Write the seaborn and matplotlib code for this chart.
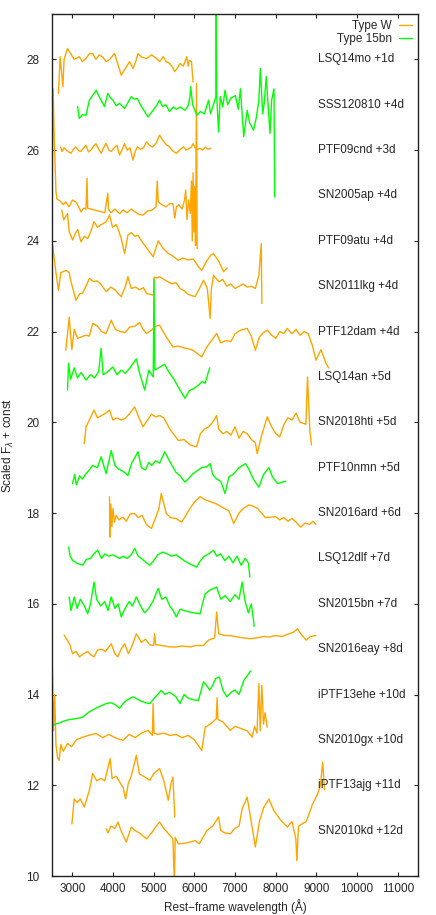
import pandas as pd
import seaborn as sns
import matplotlib.pyplot as plt
from matplotlib.lines import Line2D

# spectra: wavelength (A) and scaled flux + const
lsq14mo_wl = [2661, 2703, 2770, 2800, 2884, 2960, 3050, 3173, 3250, 3339, 3420, 3503, 3580, 3668, 3750, 3833, 3920, 4039, 4120, 4204, 4270, 4328, 4410, 4493, 4560, 4617, 4700, 4825, 4950, 5072, 5150, 5237, 5310, 5393, 5450, 5517, 5580, 5648, 5730, 5814, 5850, 5880, 5930, 5970]
lsq14mo_fl = [27.25, 28.06, 27.4, 28.0, 28.24, 28.13, 28.0, 28.06, 27.95, 28.02, 28.12, 28.13, 28.0, 28.1, 28.05, 27.95, 28.0, 28.13, 27.9, 27.65, 27.75, 27.83, 27.95, 27.8, 27.95, 28.13, 28.05, 28.02, 28.1, 28.02, 27.95, 28.06, 27.95, 27.91, 27.85, 27.73, 27.8, 27.91, 27.85, 28.06, 27.85, 27.98, 27.95, 27.5]

sss120810_wl = [3132, 3173, 3250, 3339, 3421, 3500, 3586, 3650, 3710, 3792, 3875, 3940, 4000, 4080, 4163, 4287, 4370, 4452, 4530, 4600, 4699, 4780, 4864, 4988, 5070, 5146, 5220, 5300, 5393, 5480, 5560, 5650, 5772, 5850, 5893, 5910, 5960, 6061, 6150, 6250, 6349, 6400, 6450, 6530, 6539, 6550, 6596, 6637, 6700, 6755, 6820, 6900, 7010, 7080, 7133, 7175, 7215, 7300, 7360, 7455, 7520, 7587, 7622, 7680, 7720, 7767, 7820, 7860, 7900, 7958, 7975]
sss120810_fl = [26.96, 26.7, 26.78, 26.77, 27.1, 27.2, 27.32, 27.2, 27.1, 26.96, 27.25, 27.15, 27.1, 26.98, 27.03, 26.92, 27.05, 27.18, 27.12, 27.14, 26.96, 26.85, 26.73, 26.88, 26.98, 27.1, 26.96, 27.0, 26.85, 26.95, 26.9, 26.95, 26.88, 26.98, 27.18, 27.4, 27.0, 26.77, 26.85, 26.8, 27.1, 26.8, 26.95, 27.18, 29.5, 27.2, 26.4, 27.18, 26.95, 27.32, 27.0, 27.15, 27.2, 26.9, 27.35, 26.8, 26.3, 26.88, 26.6, 26.44, 26.7, 27.1, 27.8, 26.8, 27.05, 27.62, 26.9, 26.37, 27.1, 27.35, 24.97]

ptf09cnd_wl = [2713, 2750, 2800, 2880, 2967, 3030, 3090, 3150, 3215, 3280, 3339, 3400, 3460, 3520, 3586, 3650, 3710, 3770, 3830, 3900, 3958, 4040, 4100, 4163, 4220, 4287, 4350, 4420, 4493, 4540, 4600, 4680, 4750, 4825, 4900, 4980, 5060, 5146, 5236, 5310, 5393, 5470, 5558, 5640, 5730, 5800, 5860, 5920, 5970, 6050, 6136, 6200, 6270, 6340, 6408]
ptf09cnd_fl = [26.07, 25.97, 26.05, 25.98, 25.93, 26.02, 26.07, 25.99, 25.97, 26.05, 26.1, 25.96, 26.0, 26.08, 26.14, 26.02, 25.93, 26.05, 26.15, 26.0, 25.97, 26.06, 26.1, 25.89, 26.0, 26.14, 26.0, 26.05, 25.78, 25.95, 26.07, 26.02, 26.05, 26.18, 26.1, 26.07, 26.15, 26.33, 26.2, 26.12, 26.07, 25.98, 25.93, 26.0, 26.07, 26.0, 26.03, 26.06, 26.14, 26.0, 26.04, 26.0, 26.06, 26.02, 26.04]

sn2005ap_wl = [2510, 2530, 2560, 2600, 2625, 2700, 2780, 2842, 2920, 3008, 3100, 3215, 3280, 3339, 3363, 3380, 3800, 3875, 3890, 3950, 4050, 4163, 4250, 4350, 4450, 4576, 4650, 4740, 4850, 4950, 5060, 5089, 5113, 5200, 5300, 5400, 5475, 5520, 5560, 5620, 5700, 5760, 5789, 5820, 5860, 5900, 5930, 5950, 5970, 5990, 6010, 6030, 6054, 6070]
sn2005ap_fl = [25.45, 27.35, 26.2, 25.1, 24.92, 24.88, 24.8, 24.86, 24.75, 24.9, 24.85, 24.64, 24.72, 24.7, 25.38, 24.72, 24.62, 25.05, 24.7, 24.62, 24.7, 24.6, 24.68, 24.62, 24.7, 24.62, 24.58, 24.57, 24.66, 24.67, 24.75, 25.32, 24.86, 24.8, 24.75, 24.82, 24.82, 24.5, 24.75, 24.8, 24.7, 24.9, 25.12, 24.47, 24.9, 24.6, 25.32, 24.0, 25.5, 24.2, 25.2, 23.9, 27.47, 23.83]

ptf09atu_wl = [2743, 2790, 2884, 2926, 3008, 3070, 3132, 3215, 3300, 3380, 3454, 3536, 3620, 3700, 3833, 3916, 3990, 4081, 4150, 4204, 4287, 4369, 4450, 4540, 4620, 4700, 4864, 4988, 5113, 5220, 5360, 5450, 5608, 5720, 5850, 5980, 6101, 6183, 6300, 6400, 6471, 6600, 6720, 6780, 6810]
ptf09atu_fl = [24.68, 24.46, 24.6, 24.2, 24.02, 24.15, 24.25, 23.98, 24.1, 24.05, 24.2, 24.42, 24.3, 24.35, 24.42, 24.57, 24.3, 24.36, 24.2, 24.05, 23.72, 24.13, 24.18, 24.1, 24.12, 24.0, 23.8, 23.65, 24.0, 23.85, 23.72, 23.68, 23.57, 23.62, 23.58, 23.6, 23.43, 23.35, 23.55, 23.68, 23.72, 23.55, 23.32, 23.38, 23.4]

sn2011lkg_wl = [2512, 2600, 2661, 2720, 2850, 2926, 2960, 3030, 3090, 3180, 3260, 3421, 3520, 3600, 3700, 3833, 3950, 4050, 4204, 4300, 4369, 4450, 4560, 4658, 4750, 4825, 4920, 5000, 5010, 5080, 5146, 5250, 5350, 5450, 5550, 5650, 5750, 5850, 6019, 6100, 6225, 6320, 6389, 6420, 6471, 6600, 6700, 6800, 6900, 7000, 7100, 7200, 7300, 7400, 7500, 7587, 7645, 7660]
sn2011lkg_fl = [23.94, 23.3, 22.91, 23.3, 23.35, 23.3, 23.13, 22.9, 22.69, 22.83, 22.85, 23.17, 23.1, 23.12, 23.05, 22.88, 22.98, 22.92, 22.77, 22.98, 23.21, 22.95, 22.98, 22.92, 22.97, 22.84, 22.82, 22.8, 23.2, 23.18, 23.21, 23.15, 23.1, 23.05, 23.08, 22.95, 22.9, 22.82, 22.77, 22.9, 23.13, 22.95, 22.29, 22.95, 23.24, 23.1, 23.15, 23.0, 23.05, 22.95, 23.0, 23.05, 22.98, 23.0, 22.95, 23.24, 23.94, 22.62]

ptf12dam_wl = [2842, 2926, 2990, 3050, 3130, 3215, 3330, 3420, 3503, 3620, 3720, 3833, 3958, 4060, 4180, 4300, 4411, 4540, 4658, 4740, 4825, 4930, 5050, 5146, 5311, 5475, 5600, 5750, 5850, 5970, 6183, 6300, 6420, 6549, 6650, 6780, 6900, 7000, 7133, 7298, 7400, 7500, 7600, 7700, 7800, 7900, 8000, 8100, 8200, 8287, 8400, 8500, 8600, 8700, 8800, 8900, 8990, 9113, 9237, 9300]
ptf12dam_fl = [21.59, 22.32, 21.6, 22.05, 21.85, 21.88, 21.92, 21.9, 22.18, 22.12, 22.0, 21.96, 22.25, 22.05, 22.0, 21.98, 22.1, 22.12, 22.2, 22.05, 21.96, 22.02, 22.12, 22.14, 21.88, 21.66, 21.68, 21.64, 21.62, 21.59, 21.44, 21.65, 21.8, 21.96, 21.75, 21.8, 21.78, 21.95, 22.03, 22.07, 21.9, 21.59, 21.88, 21.98, 22.03, 21.92, 21.85, 22.0, 21.96, 22.07, 21.95, 22.05, 21.92, 22.0, 21.95, 21.7, 21.37, 21.6, 21.3, 21.2]

lsq14an_wl = [2884, 2910, 2960, 3050, 3130, 3220, 3339, 3450, 3550, 3650, 3710, 3760, 3850, 3998, 4100, 4200, 4300, 4420, 4576, 4650, 4782, 4880, 4990, 5010, 5030, 5120, 5270, 5380, 5500, 5648, 5772, 5880, 6000, 6100, 6200, 6267, 6349, 6380]
lsq14an_fl = [20.71, 21.3, 20.95, 21.2, 20.98, 21.1, 20.93, 21.05, 20.98, 21.12, 21.63, 21.05, 21.1, 21.22, 21.05, 21.15, 21.08, 21.2, 21.4, 21.1, 20.71, 21.15, 21.0, 23.15, 21.15, 21.2, 21.28, 21.1, 20.95, 20.71, 20.53, 20.7, 20.75, 20.82, 20.9, 20.86, 21.12, 21.2]

sn2018hti_wl = [3297, 3340, 3420, 3536, 3620, 3720, 3820, 3916, 4000, 4100, 4200, 4287, 4400, 4535, 4640, 4740, 4850, 4950, 5050, 5150, 5250, 5400, 5608, 5750, 5900, 6054, 6150, 6250, 6349, 6450, 6549, 6600, 6700, 6800, 6900, 7000, 7100, 7200, 7300, 7400, 7500, 7546, 7650, 7793, 7900, 8000, 8100, 8200, 8300, 8400, 8502, 8600, 8742, 8782, 8840, 8880]
sn2018hti_fl = [19.53, 19.9, 20.05, 20.27, 20.1, 20.15, 20.2, 20.27, 20.05, 20.1, 20.05, 20.08, 20.18, 20.34, 20.1, 19.9, 20.05, 20.18, 20.12, 20.15, 20.1, 19.85, 19.6, 19.62, 19.5, 19.46, 19.75, 19.85, 19.9, 20.0, 20.15, 19.85, 19.75, 19.8, 19.72, 19.9, 19.65, 19.8, 19.75, 19.62, 19.55, 19.31, 19.7, 20.12, 19.9, 19.75, 19.68, 19.95, 20.1, 20.05, 20.2, 20.0, 19.96, 21.0, 19.8, 19.5]

ptf10nmn_wl = [3008, 3060, 3100, 3180, 3250, 3339, 3420, 3500, 3620, 3710, 3833, 3958, 4050, 4120, 4250, 4369, 4460, 4617, 4700, 4800, 4880, 4950, 5050, 5150, 5270, 5360, 5450, 5550, 5650, 5772, 5880, 5960, 6050, 6180, 6308, 6390, 6450, 6550, 6650, 6755, 6850, 6950, 7100, 7257, 7350, 7450, 7587, 7700, 7834, 7920, 8040, 8150, 8247]
ptf10nmn_fl = [18.65, 18.85, 18.62, 18.82, 18.75, 18.87, 18.95, 19.05, 19.0, 19.24, 18.87, 19.38, 19.05, 18.98, 18.92, 18.83, 19.1, 19.35, 19.0, 18.95, 19.12, 19.05, 19.15, 19.1, 19.35, 19.2, 19.05, 18.9, 18.82, 18.68, 18.78, 18.86, 18.92, 19.0, 19.02, 19.09, 18.85, 18.75, 18.7, 18.43, 18.8, 18.85, 19.0, 19.09, 18.95, 18.75, 18.57, 18.85, 19.0, 18.8, 18.65, 18.68, 18.7]

sn2016ard_wl = [3916, 3930, 3950, 3975, 4000, 4040, 4080, 4150, 4245, 4330, 4420, 4535, 4620, 4720, 4820, 4947, 5050, 5130, 5187, 5311, 5420, 5550, 5689, 5894, 6010, 6143, 6250, 6400, 6550, 6700, 6850, 6968, 7100, 7200, 7340, 7450, 7560, 7650, 7750, 7876, 8000, 8100, 8200, 8300, 8400, 8500, 8618, 8720, 8830, 8920, 8990]
sn2016ard_fl = [18.36, 17.47, 18.2, 17.7, 18.1, 17.8, 17.95, 17.85, 17.91, 17.82, 17.98, 17.99, 17.9, 17.95, 17.75, 17.66, 17.9, 18.1, 18.43, 17.99, 17.9, 17.88, 17.8, 18.1, 18.25, 18.36, 18.3, 18.25, 18.2, 18.12, 18.05, 17.77, 18.0, 18.1, 18.18, 18.15, 18.1, 18.0, 17.9, 17.91, 17.92, 17.85, 17.9, 17.82, 17.88, 17.8, 17.69, 17.78, 17.75, 17.82, 17.75]

lsq12dlf_wl = [2909, 2950, 3008, 3100, 3255, 3350, 3450, 3550, 3627, 3720, 3800, 3900, 4000, 4163, 4250, 4350, 4450, 4535, 4620, 4700, 4800, 4906, 5000, 5100, 5229, 5330, 5450, 5550, 5650, 5750, 5850, 6054, 6150, 6250, 6350, 6471, 6550, 6650, 6750, 6850, 6950, 7050, 7150, 7250, 7330, 7365]
lsq12dlf_fl = [17.25, 17.05, 16.96, 16.9, 16.85, 16.98, 17.0, 17.12, 17.18, 17.0, 17.1, 17.05, 17.08, 17.0, 17.05, 17.0, 17.08, 17.22, 17.05, 17.0, 16.92, 16.85, 16.95, 17.08, 17.14, 17.1, 17.05, 17.08, 17.02, 16.95, 16.9, 16.81, 16.95, 17.05, 17.1, 17.18, 17.05, 17.1, 16.95, 17.05, 16.9, 17.05, 16.85, 17.0, 16.9, 16.59]

sn2015bn_wl = [2926, 2970, 3050, 3120, 3200, 3300, 3379, 3450, 3536, 3600, 3700, 3800, 3880, 3958, 4050, 4130, 4204, 4300, 4400, 4480, 4576, 4680, 4780, 4880, 4980, 5113, 5200, 5300, 5400, 5480, 5558, 5650, 5760, 5880, 6000, 6143, 6200, 6267, 6380, 6549, 6650, 6760, 6880, 7000, 7100, 7174, 7250, 7330, 7400, 7455, 7470]
sn2015bn_fl = [16.15, 15.85, 16.15, 15.9, 16.1, 15.95, 15.78, 16.0, 16.48, 16.1, 15.95, 16.05, 15.85, 16.15, 15.9, 16.0, 15.71, 15.9, 16.05, 15.95, 16.15, 15.95, 15.8, 15.9, 16.05, 16.34, 16.1, 16.15, 15.95, 15.85, 15.71, 15.88, 15.85, 15.82, 15.8, 15.78, 16.0, 16.22, 16.3, 16.37, 16.1, 16.18, 16.05, 16.2, 16.1, 16.48, 16.05, 15.8, 16.0, 15.64, 15.5]

sn2016eay_wl = [2802, 2840, 2880, 2940, 3008, 3100, 3173, 3280, 3380, 3450, 3536, 3620, 3720, 3820, 3958, 4050, 4120, 4200, 4287, 4380, 4460, 4576, 4700, 4800, 4900, 5000, 5024, 5050, 5200, 5393, 5550, 5700, 5900, 6050, 6225, 6350, 6500, 6549, 6600, 6750, 6900, 7050, 7200, 7381, 7550, 7700, 7850, 8000, 8150, 8300, 8450, 8535, 8650, 8750, 8850, 8990]
sn2016eay_fl = [15.31, 15.25, 15.2, 15.1, 14.9, 14.95, 14.83, 14.9, 14.95, 14.88, 14.83, 14.98, 15.0, 14.95, 15.12, 14.9, 14.83, 15.0, 15.12, 14.9, 15.05, 15.34, 15.15, 15.22, 15.1, 15.08, 15.34, 15.1, 15.08, 15.05, 15.05, 15.07, 15.05, 15.08, 15.08, 15.2, 15.25, 15.82, 15.34, 15.3, 15.3, 15.27, 15.25, 15.23, 15.25, 15.28, 15.27, 15.3, 15.28, 15.33, 15.38, 15.45, 15.3, 15.2, 15.28, 15.3]

iptf13ehe_wl = [2512, 2600, 2700, 2842, 2950, 3100, 3255, 3421, 3627, 3833, 3950, 4050, 4163, 4250, 4328, 4493, 4600, 4700, 4800, 4906, 5000, 5100, 5187, 5280, 5380, 5450, 5550, 5648, 5750, 5850, 6000, 6101, 6225, 6300, 6380, 6450, 6520, 6615, 6700, 6801, 6900, 7000, 7100, 7215, 7340, 7380]
iptf13ehe_fl = [13.32, 13.35, 13.38, 13.43, 13.45, 13.47, 13.5, 13.62, 13.72, 13.8, 13.82, 13.78, 13.7, 13.8, 13.87, 13.95, 13.9, 13.85, 13.82, 13.8, 13.9, 14.0, 14.09, 14.0, 14.05, 14.02, 13.95, 13.8, 14.0, 13.92, 13.88, 13.87, 14.28, 14.2, 14.1, 14.2, 14.35, 14.39, 14.1, 13.95, 14.05, 14.1, 14.0, 14.31, 14.46, 14.52]

sn2010gx_wl = [2512, 2540, 2570, 2600, 2640, 2678, 2720, 2780, 2884, 2980, 3100, 3255, 3400, 3586, 3750, 3900, 4050, 4245, 4400, 4550, 4700, 4864, 4970, 4988, 5010, 5100, 5250, 5400, 5550, 5700, 5850, 6000, 6183, 6267, 6400, 6540, 6560, 6580, 6700, 6884, 7000, 7150, 7300, 7422, 7480, 7540, 7587, 7620, 7660, 7700, 7740, 7793]
sn2010gx_fl = [14.54, 13.2, 14.0, 12.9, 12.6, 12.55, 12.9, 12.75, 12.92, 12.85, 13.0, 13.06, 13.1, 13.14, 13.05, 13.12, 13.05, 12.99, 13.12, 13.05, 13.15, 13.21, 13.1, 13.8, 13.15, 13.12, 13.15, 13.1, 13.12, 13.05, 13.1, 13.0, 12.77, 13.28, 13.35, 13.47, 13.93, 13.45, 13.4, 13.21, 13.3, 13.25, 13.2, 13.06, 13.3, 13.15, 14.24, 13.2, 14.2, 13.35, 13.6, 13.28]

iptf13ajg_wl = [2992, 3049, 3120, 3200, 3297, 3421, 3503, 3600, 3700, 3800, 3932, 3980, 4080, 4180, 4250, 4312, 4380, 4450, 4576, 4650, 4750, 4906, 5000, 5146, 5250, 5360, 5430, 5475, 5520]
iptf13ajg_fl = [11.15, 11.7, 11.62, 11.7, 11.52, 11.89, 12.26, 12.1, 12.15, 12.1, 12.59, 12.15, 12.2, 12.05, 11.95, 11.7, 12.05, 12.2, 12.66, 12.25, 12.2, 12.11, 12.25, 12.37, 12.1, 11.67, 12.05, 12.18, 11.3]

sn2010kd_wl = [3833, 3880, 3950, 4050, 4122, 4200, 4328, 4452, 4550, 4650, 4825, 4950, 5050, 5146, 5250, 5350, 5475, 5510, 5530, 5608, 5750, 5900, 6019, 6120, 6308, 6450, 6596, 6650, 6750, 6884, 7000, 7100, 7174, 7298, 7380, 7500, 7600, 7700, 7834, 7950, 8122, 8287, 8400, 8495, 8520, 8560, 8650, 8750, 8907, 9030, 9100, 9154, 9200]
sn2010kd_fl = [11.04, 10.95, 11.1, 11.05, 11.19, 11.0, 10.75, 11.08, 11.0, 10.95, 10.82, 10.95, 11.08, 11.19, 11.05, 10.95, 10.82, 9.8, 10.85, 10.71, 10.72, 10.75, 10.78, 10.71, 11.0, 11.1, 11.3, 11.0, 10.95, 10.93, 11.05, 11.1, 11.48, 11.74, 11.3, 10.64, 11.2, 11.5, 11.7, 11.45, 11.23, 11.08, 11.2, 10.82, 10.34, 11.1, 11.15, 11.2, 11.59, 11.81, 12.0, 12.51, 11.9]

labels = ['LSQ14mo +1d', 'SSS120810 +4d', 'PTF09cnd +3d', 'SN2005ap +4d', 'PTF09atu +4d',
          'SN2011lkg +4d', 'PTF12dam +4d', 'LSQ14an +5d', 'SN2018hti +5d', 'PTF10nmn +5d',
          'SN2016ard +6d', 'LSQ12dlf +7d', 'SN2015bn +7d', 'SN2016eay +8d', 'iPTF13ehe +10d',
          'SN2010gx +10d', 'iPTF13ajg +11d', 'SN2010kd +12d']
label_y = [28, 27, 26, 25, 24, 23, 22, 21, 20, 19, 18, 17, 16, 15, 14, 13, 12, 11]
types = ['Type W', 'Type 15bn', 'Type W', 'Type W', 'Type W', 'Type W', 'Type W', 'Type 15bn',
         'Type W', 'Type 15bn', 'Type W', 'Type 15bn', 'Type 15bn', 'Type W', 'Type 15bn',
         'Type W', 'Type W', 'Type W']
spectra = [(lsq14mo_wl, lsq14mo_fl), (sss120810_wl, sss120810_fl), (ptf09cnd_wl, ptf09cnd_fl),
           (sn2005ap_wl, sn2005ap_fl), (ptf09atu_wl, ptf09atu_fl), (sn2011lkg_wl, sn2011lkg_fl),
           (ptf12dam_wl, ptf12dam_fl), (lsq14an_wl, lsq14an_fl), (sn2018hti_wl, sn2018hti_fl),
           (ptf10nmn_wl, ptf10nmn_fl), (sn2016ard_wl, sn2016ard_fl), (lsq12dlf_wl, lsq12dlf_fl),
           (sn2015bn_wl, sn2015bn_fl), (sn2016eay_wl, sn2016eay_fl), (iptf13ehe_wl, iptf13ehe_fl),
           (sn2010gx_wl, sn2010gx_fl), (iptf13ajg_wl, iptf13ajg_fl), (sn2010kd_wl, sn2010kd_fl)]

palette = {'Type W': '#FFA500', 'Type 15bn': '#00FF00'}

rows = []
for name, typ, (wl, fl) in zip(labels, types, spectra):
    for w, f in zip(wl, fl):
        rows.append({'wl': w, 'flux': f, 'name': name, 'type': typ})
df = pd.DataFrame(rows)

sns.set_style('ticks')
plt.rcParams['font.family'] = ['Liberation Sans', 'DejaVu Sans']

fig, ax = plt.subplots(figsize=(4.36, 9.15), dpi=100)
fig.subplots_adjust(left=0.119, right=0.959, bottom=0.0426, top=0.9847)

sns.lineplot(data=df, x='wl', y='flux', units='name', estimator=None, hue='type',
             palette=palette, sort=False, lw=1.0, legend=False, ax=ax)

for lab, y in zip(labels, label_y):
    ax.text(9050, y, lab, fontsize=8.5, va='center', ha='left')

ax.set_xlim(2500, 11500)
ax.set_ylim(10, 29)
ax.set_xticks(range(3000, 11001, 1000))
ax.set_yticks(range(10, 29, 2))
ax.tick_params(direction='in', top=True, right=True, labelsize=8.5, length=3, width=0.8)
ax.tick_params(axis='y', pad=9)
ax.tick_params(axis='x', pad=5)
for sp in ax.spines.values():
    sp.set_linewidth(1.0)
    sp.set_color('#222222')

ax.set_xlabel('Rest\u2212frame wavelength (Å)', fontsize=8.5, labelpad=3)
ax.set_ylabel(r'Scaled F$_\lambda$ + const', fontsize=8.5, labelpad=7)

handles = [Line2D([], [], color=palette[t], lw=1.0) for t in ['Type W', 'Type 15bn']]
ax.legend(handles, ['Type W', 'Type 15bn'], loc='upper right', frameon=False, fontsize=8.5,
          markerfirst=False, handlelength=1.1, handletextpad=0.6, labelspacing=0.05,
          borderaxespad=0.15)

plt.savefig('out.png', dpi=100)
